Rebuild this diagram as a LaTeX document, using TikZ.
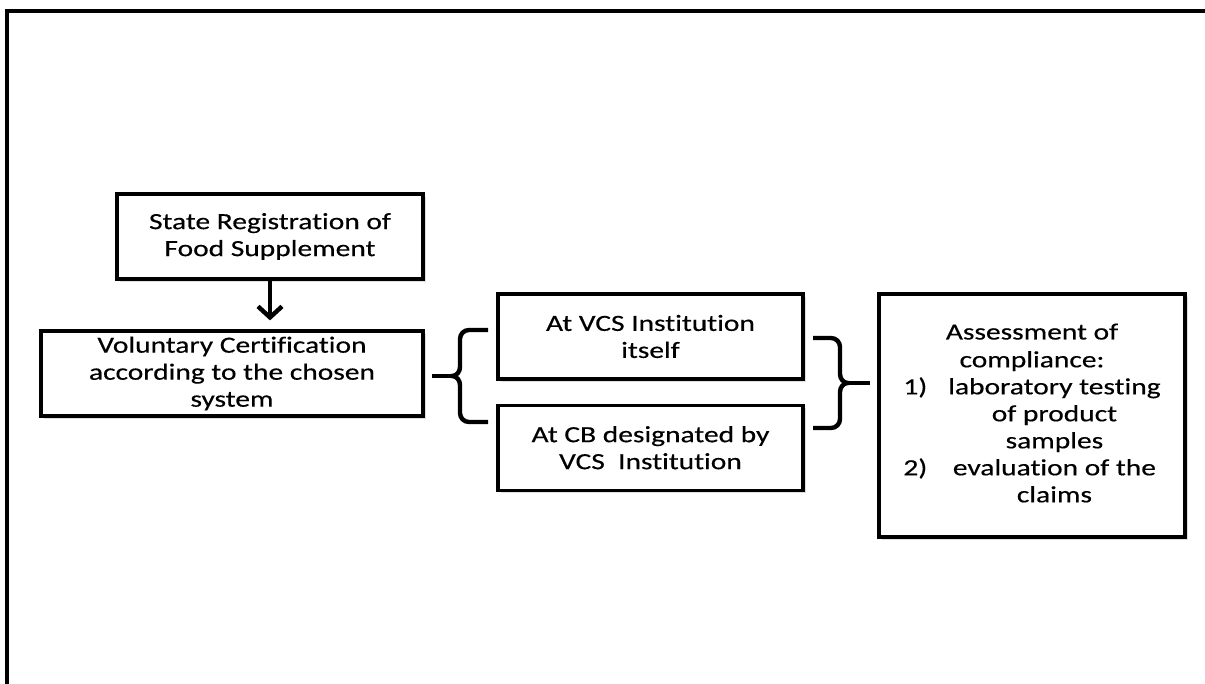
\documentclass[tikz,border=0pt]{standalone}
\usepackage{fontspec}
\setmainfont{Carlito}[FakeStretch=1.27,Ligatures=CommonOff,FakeBold=0.4]
\usetikzlibrary{positioning,arrows.meta,shadows}

\begin{document}
\begin{tikzpicture}[
		x=0.5pt,
		y=-0.5pt,
		box/.style={
			draw,
			line width=1.6pt,
			fill=white,
			align=center,
			inner sep=0pt,
			minimum width=153pt,
			minimum height=42.5pt,
			drop shadow={shadow xshift=1.4pt,shadow yshift=-1.4pt,fill=black!25},
		},
		brace/.style={line width=2.2pt},
		font=\fontsize{11.6}{13.5}\selectfont,
		>={Straight Barb[length=5.5pt,width=12pt]}
		]
		\useasboundingbox (0,0) rectangle (1205,684);
		% Draw the frame
		\draw[line width=1.6pt] (1205,11) -- (7,11) -- (7,684);
		% Draw the registration and certification boxes
		\node [box] (sreg) at (270,236.5) {State Registration of\\Food Supplement};
		\node [box,minimum width=191pt] (vol) at (232,373.5) {Voluntary Certification\\according to the chosen\\system};
		\draw[->,line width=2.2pt,shorten >=4.5pt] (sreg.south) -- (sreg.south |- vol.north);
		% Draw the two institution boxes
		\node [box,minimum width=152.5pt] (vcs) at (650.5,336.5) {At VCS Institution\\itself};
		\node [box,minimum width=152.5pt,below=11.5pt of vcs] (cb) {At CB designated by\\VCS~ Institution};
		% Draw the assessment box
		\node [box,minimum height=121.5pt] (assess) at (1032,415.5) {%
			\begin{tabular}{@{}l@{\hspace{10.5pt}}c@{}}
				\multicolumn{2}{@{}c@{}}{Assessment of}\\[0.4pt]
				\multicolumn{2}{@{}c@{}}{compliance:}\\
				1) & laboratory testing\\
				   & of product\\
				   & samples\\
				2) & evaluation of the\\
				   & claims
			\end{tabular}};
		% Draw the left brace
		\coordinate (lbtip) at (452,376);
		\draw[brace,shorten <=3.5pt] (vol.east |- lbtip) -- (lbtip);
		\draw[brace] (488,330) -- (469,330) to[out=180,in=90] (460,339) -- (460,367)
			to[out=-90,in=0] (lbtip) to[out=0,in=90] (460,385) -- (460,413)
			to[out=-90,in=180] (469,422) -- (488,422);
		% Draw the right brace
		\coordinate (rbtip) at (848,383);
		\draw[brace] (813,338) -- (831,338) to[out=0,in=90] (840,347) -- (840,374)
			to[out=-90,in=180] (rbtip) to[out=180,in=90] (840,392) -- (840,419)
			to[out=-90,in=0] (831,428) -- (813,428);
		\draw[brace,shorten >=3.5pt] (rbtip) -- (assess.west |- rbtip);
	\end{tikzpicture}
\end{document}
